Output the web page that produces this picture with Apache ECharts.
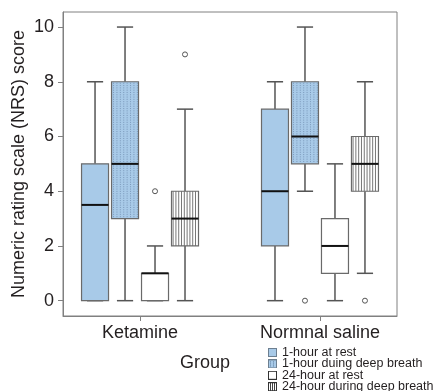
<!DOCTYPE html>
<html><head><meta charset="utf-8">
<script src="https://cdn.jsdelivr.net/npm/echarts@6/dist/echarts.min.js"></script>
<style>html,body{margin:0;padding:0;background:#fff}#c{width:433px;height:391px}</style>
</head><body><div id="c"></div>
<script>
// ---- data ----
const groups = ['Ketamine', 'Normnal saline'];
const seriesNames = ['1-hour at rest', '1-hour duing deep breath', '24-hour at rest', '24-hour during deep breath'];
const yTicks = [0, 2, 4, 6, 8, 10];
// [min, Q1, median, Q3, max] per group (Ketamine, Normnal saline)
const oneHourRest = [[0, 0, 3.5, 5, 8], [0, 2, 4, 7, 8]];
const oneHourDeep = [[0, 3, 5, 8, 10], [4, 5, 6, 8, 10]];
const dayRest = [[0, 0, 1, 1, 2], [0, 1, 2, 3, 5]];
const dayDeep = [[0, 2, 3, 4, 7], [1, 4, 5, 6, 8]];
// outliers: [groupIndex, value]
const oneHourRestOut = [];
const oneHourDeepOut = [[1, 0]];
const dayRestOut = [[0, 4]];
const dayDeepOut = [[0, 9], [1, 0]];

// ---- layout / style ----
const boxSets = [oneHourRest, oneHourDeep, dayRest, dayDeep];
const outSets = [oneHourRestOut, oneHourDeepOut, dayRestOut, dayDeepOut];
const offsets = [-0.25, -1 / 12, 1 / 12, 0.25];
const BLUE = '#a8cae8';
const FONT = "'Liberation Sans', Arial, sans-serif";
const TXT = '#231f20';
const AX = '#808080';

function makeIcon(kind) {
  const c = document.createElement('canvas');
  c.width = 9; c.height = 9;
  const g = c.getContext('2d');
  g.fillStyle = (kind === 0 || kind === 1) ? BLUE : '#ffffff';
  g.fillRect(0, 0, 9, 9);
  if (kind === 1) {
    g.fillStyle = '#5d7d9e';
    for (let x = 2; x < 8; x += 3) for (let y = 2; y < 8; y += 2) g.fillRect(x, y, 1, 1);
  }
  if (kind === 3) {
    g.fillStyle = '#444';
    for (let x = 2; x < 8; x += 2) g.fillRect(x, 1, 1, 7);
  }
  g.strokeStyle = kind === 0 || kind === 1 ? '#6d7f90' : '#333';
  g.lineWidth = 1;
  g.strokeRect(0.5, 0.5, 8, 8);
  return 'image://' + c.toDataURL();
}

function boxSeries(kind) {
  const data = boxSets[kind].map((v, gi) => [gi + 1 + offsets[kind]].concat(v));
  return {
    type: 'custom', name: seriesNames[kind], silent: true,
    itemStyle: { color: (kind === 0 || kind === 1) ? BLUE : '#ffffff' },
    encode: { x: 0, y: [1, 2, 3, 4, 5] },
    data: data,
    renderItem: function (params, api) {
      const x = api.value(0);
      const pMin = api.coord([x, api.value(1)]);
      const pQ1 = api.coord([x, api.value(2)]);
      const pMd = api.coord([x, api.value(3)]);
      const pQ3 = api.coord([x, api.value(4)]);
      const pMax = api.coord([x, api.value(5)]);
      const hw = api.size([0.075, 0])[0];
      const cw = api.size([0.045, 0])[0];
      const cx = pMin[0];
      const ws = { stroke: '#555', lineWidth: 1.5 };
      const ch = [];
      ch.push({ type: 'line', shape: { x1: cx, y1: pQ3[1], x2: cx, y2: pMax[1] }, style: ws });
      ch.push({ type: 'line', shape: { x1: cx - cw, y1: pMax[1], x2: cx + cw, y2: pMax[1] }, style: ws });
      ch.push({ type: 'line', shape: { x1: cx, y1: pQ1[1], x2: cx, y2: pMin[1] }, style: ws });
      ch.push({ type: 'line', shape: { x1: cx - cw, y1: pMin[1], x2: cx + cw, y2: pMin[1] }, style: ws });
      const top = pQ3[1], bot = pQ1[1], l = cx - hw, r = cx + hw;
      ch.push({ type: 'rect', shape: { x: l, y: top, width: 2 * hw, height: bot - top },
        style: { fill: (kind === 0 || kind === 1) ? BLUE : '#fff', stroke: 'none' } });
      if (kind === 1) {
        for (let px = l + 2; px < r - 1; px += 3.4) {
          ch.push({ type: 'line', shape: { x1: px, y1: top + 1, x2: px, y2: bot - 1 },
            style: { stroke: '#6f8cae', lineWidth: 0.8, lineDash: [1, 1.3] } });
        }
      }
      if (kind === 3) {
        for (let px = l + 1.6; px < r - 0.5; px += 2.8) {
          ch.push({ type: 'line', shape: { x1: px, y1: top, x2: px, y2: bot },
            style: { stroke: '#555', lineWidth: 0.8 } });
        }
      }
      ch.push({ type: 'rect', shape: { x: l, y: top, width: 2 * hw, height: bot - top },
        style: { fill: 'none', stroke: '#6a6a6a', lineWidth: 1.2 } });
      ch.push({ type: 'line', shape: { x1: l, y1: pMd[1], x2: r, y2: pMd[1] },
        style: { stroke: '#111', lineWidth: 2 } });
      return { type: 'group', children: ch };
    }
  };
}

const outData = [];
outSets.forEach((set, k) => set.forEach(o => outData.push([o[0] + 1 + offsets[k], o[1]])));

const chart = echarts.init(document.getElementById('c'), null, { renderer: 'canvas' });
chart.setOption({
  animation: false,
  backgroundColor: '#fff',
  grid: { left: 63, right: 36, top: 12, bottom: 75, show: true, borderColor: AX, borderWidth: 1, containLabel: false, outerBoundsMode: 'none' },
  xAxis: {
    type: 'value', min: 0.572, max: 2.428,
    splitLine: { show: false },
    axisLine: { show: true, onZero: false, lineStyle: { color: AX, width: 1 } },
    axisTick: { show: true, customValues: [1, 2], length: 5, lineStyle: { color: AX } },
    axisLabel: { customValues: [1, 2], formatter: v => groups[Math.round(v) - 1], fontSize: 18, fontFamily: FONT, color: TXT, margin: 8 }
  },
  yAxis: {
    type: 'value', min: -0.56, max: 10.55,
    name: 'Numeric rating scale (NRS) score', nameLocation: 'middle', nameGap: 35, nameMoveOverlap: false,
    nameTextStyle: { fontSize: 18, fontFamily: FONT, color: TXT },
    splitLine: { show: false },
    axisLine: { show: true, onZero: false, lineStyle: { color: AX, width: 1 } },
    axisTick: { show: true, customValues: yTicks, length: 5, lineStyle: { color: AX } },
    axisLabel: { customValues: yTicks, fontSize: 18, fontFamily: FONT, color: TXT, margin: 9 }
  },
  legend: {
    orient: 'vertical', left: 268, top: 346, height: 80,
    itemWidth: 9, itemHeight: 9, itemGap: -1.6, padding: 0, itemTextGap: 1,
    textStyle: { fontSize: 12.5, fontFamily: FONT, color: TXT, lineHeight: 11 },
    data: seriesNames.map((n, i) => ({ name: n, icon: makeIcon(i) }))
  },
  graphic: [{ type: 'text', left: 180, top: 354, style: { text: 'Group', fontSize: 18, fontFamily: FONT, fill: TXT } }],
  series: [0, 1, 2, 3].map(boxSeries).concat([{
    type: 'scatter', silent: true, symbol: 'circle', symbolSize: 5,
    itemStyle: { color: '#fff', borderColor: '#555', borderWidth: 1, opacity: 1 },
    data: outData
  }])
});
</script></body></html>
